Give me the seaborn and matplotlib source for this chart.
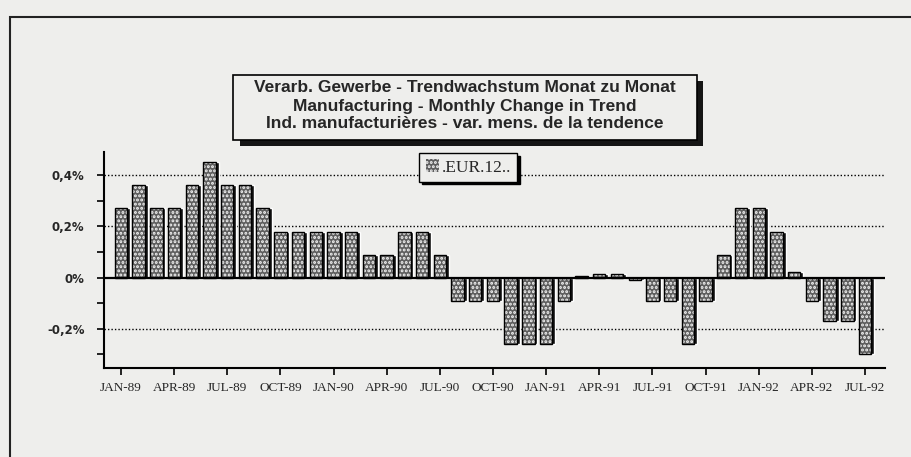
import numpy as np
import pandas as pd
import seaborn as sns
import matplotlib.pyplot as plt
from matplotlib.patches import Rectangle, Patch

# =====================
# DATA
# =====================
months = pd.date_range("1989-01-01", periods=43, freq="MS").strftime("%b-%y").str.upper().tolist()

eur12 = [0.27, 0.36, 0.27, 0.27, 0.36, 0.45, 0.36, 0.36, 0.27, 0.18, 0.18, 0.18,
         0.18, 0.18, 0.09, 0.09, 0.18, 0.18, 0.09, -0.09, -0.09, -0.09, -0.26, -0.26,
         -0.26, -0.09, 0.005, 0.015, 0.015, -0.01, -0.09, -0.09, -0.26, -0.09, 0.09, 0.27,
         0.27, 0.18, 0.02, -0.09, -0.17, -0.17, -0.30]

tick_labels = ["JAN-89", "APR-89", "JUL-89", "OCT-89", "JAN-90", "APR-90", "JUL-90",
               "OCT-90", "JAN-91", "APR-91", "JUL-91", "OCT-91", "JAN-92", "APR-92", "JUL-92"]

y_major = [-0.2, 0.0, 0.2, 0.4]
y_major_labels = ["-0,2%", "0%", "0,2%", "0,4%"]
y_minor = [-0.3, -0.1, 0.1, 0.3]

title_lines = ["Verarb. Gewerbe - Trendwachstum Monat zu Monat",
               "Manufacturing - Monthly Change in Trend",
               "Ind. manufacturières - var. mens. de la tendence"]

df = pd.DataFrame({"month": months, "value": eur12})

# =====================
# FIGURE
# =====================
sns.set_style("white")
paper = "#eeeeec"
bar_face = "#5e5e5e"
plt.rcParams["hatch.linewidth"] = 1.4

fig = plt.figure(figsize=(9.11, 4.57), dpi=100, facecolor=paper)
ax = fig.add_axes([0.114, 0.195, 0.857, 0.472])
ax.set_facecolor(paper)

# dotted reference lines
for v in [0.4, 0.2, -0.2]:
    ax.axhline(v, color="black", lw=1.0, ls=(0, (1, 1.5)), zorder=1)

x = np.arange(len(eur12))

# bar shadows
ax.bar(x + 0.16, eur12, width=0.7, color="#111111", zorder=2)

# dotted bars: white dots on dark face
sns.barplot(data=df, x="month", y="value", ax=ax, color=bar_face,
            width=0.7, edgecolor="#f4f4f4", linewidth=0, zorder=3, saturation=1)
for p in ax.patches[len(eur12):]:
    p.set_hatch("....")

# outlines
ax.bar(x, eur12, width=0.7, fill=False, edgecolor="black", linewidth=1.0, zorder=4)

ax.axhline(0, color="black", lw=1.6, zorder=5)

ax.set_xlim(-0.96, 43.1)
ax.set_ylim(-0.353, 0.49)
ax.set_xlabel("")
ax.set_ylabel("")

ax.set_xticks(np.arange(0, len(eur12), 3))
ax.set_xticklabels(tick_labels, fontfamily="Liberation Serif", fontsize=9.5)
ax.set_yticks(y_major)
ax.set_yticklabels(y_major_labels, fontfamily="Liberation Sans Narrow",
                   fontweight="bold", fontsize=8.5)
ax.set_yticks(y_minor, minor=True)
ax.tick_params(axis="both", which="both", direction="out", length=5, width=1.2,
               color="black", left=True, bottom=True)
ax.tick_params(axis="y", pad=9)
ax.tick_params(axis="x", pad=5)

sns.despine(ax=ax)
for s in ["left", "bottom"]:
    ax.spines[s].set_color("black")
    ax.spines[s].set_linewidth(1.5)

# legend
handle = Patch(facecolor=bar_face, edgecolor="#f4f4f4", linewidth=0, hatch="....")
leg = ax.legend([handle], [".EUR.12.."], loc="center", bbox_to_anchor=(0.467, 0.93),
                frameon=True, fancybox=False, handlelength=0.8, handleheight=0.8,
                handletextpad=0.15, borderpad=0.35,
                prop={"family": "Liberation Serif", "size": 12.5},
                shadow={"color": "black", "alpha": 1.0})
leg.get_frame().set_facecolor(paper)
leg.get_frame().set_edgecolor("black")
leg.get_frame().set_linewidth(1.0)
leg.set_zorder(6)

# title box with shadow
fig.add_artist(Rectangle((240 / 911, 1 - 146 / 457), 463 / 911, 65 / 457,
                         transform=fig.transFigure, facecolor="#151515", edgecolor="none"))
fig.add_artist(Rectangle((233 / 911, 1 - 140 / 457), 464 / 911, 65 / 457,
                         transform=fig.transFigure, facecolor=paper, edgecolor="black", lw=1.2))
for i, line in enumerate(title_lines):
    fig.text(465 / 911, 1 - (88 + 18 * i) / 457, line, ha="center", va="center",
             fontfamily="Liberation Sans", fontweight="bold", fontsize=12.5)

# outer frame
fig.add_artist(Rectangle((10 / 911, -0.05), 1.0, 1 - 17 / 457 + 0.05,
                         transform=fig.transFigure, facecolor="none", edgecolor="#222222", lw=1.5))

fig.savefig("out.png", dpi=100, facecolor=paper)
